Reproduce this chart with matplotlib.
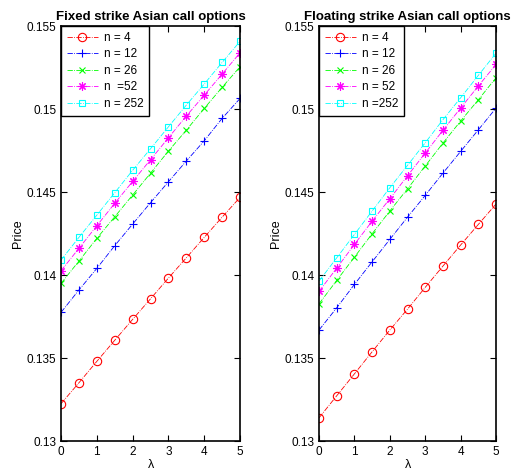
import numpy as np
import matplotlib
matplotlib.use("Agg")
import matplotlib.pyplot as plt

lam = [0, 0.5, 1, 1.5, 2, 2.5, 3, 3.5, 4, 4.5, 5]

# fixed strike prices
fixed_n4 = [0.13225, 0.13351, 0.13480, 0.13607, 0.13733, 0.13857, 0.13982, 0.14104, 0.14227, 0.14349, 0.14468]
fixed_n12 = [0.13775, 0.13910, 0.14040, 0.14177, 0.14307, 0.14436, 0.14562, 0.14687, 0.14809, 0.14944, 0.15064]
fixed_n26 = [0.13950, 0.14084, 0.14221, 0.14351, 0.14482, 0.14614, 0.14747, 0.14873, 0.15004, 0.15131, 0.15255]
fixed_n52 = [0.14026, 0.14161, 0.14297, 0.14432, 0.14564, 0.14695, 0.14827, 0.14958, 0.15084, 0.15211, 0.15339]
fixed_n252 = [0.14090, 0.14227, 0.14361, 0.14496, 0.14631, 0.14761, 0.14893, 0.15024, 0.15151, 0.15281, 0.15408]

# floating strike prices
float_n4 = [0.13140, 0.13273, 0.13405, 0.13538, 0.13669, 0.13795, 0.13926, 0.14054, 0.14181, 0.14305, 0.14428]
float_n12 = [0.13669, 0.13803, 0.13944, 0.14080, 0.14215, 0.14349, 0.14480, 0.14614, 0.14745, 0.14875, 0.15006]
float_n26 = [0.13827, 0.13968, 0.14108, 0.14249, 0.14386, 0.14520, 0.14657, 0.14795, 0.14928, 0.15056, 0.15189]
float_n52 = [0.13902, 0.14042, 0.14185, 0.14325, 0.14460, 0.14598, 0.14735, 0.14872, 0.15006, 0.15139, 0.15269]
float_n252 = [0.13964, 0.14104, 0.14245, 0.14386, 0.14526, 0.14661, 0.14797, 0.14936, 0.15068, 0.15203, 0.15337]

fixed_labels = ["n = 4", "n = 12", "n = 26", "n  =52", "n = 252"]
float_labels = ["n = 4", "n = 12", "n = 26", "n = 52", "n =252"]

colors = ["#ff0000", "#0000ff", "#00ff00", "#ff00ff", "#00ffff"]
markers = ["o", "+", "x", (8, 2, 0), "s"]
msizes = [6, 6, 4.5, 6, 5]

plt.rcParams['font.family'] = ['Liberation Sans', 'DejaVu Sans']

fig = plt.figure(figsize=(5.13, 4.74), dpi=100)
ax1 = fig.add_axes([0.119, 0.0696, 0.349, 0.8755])
ax2 = fig.add_axes([0.622, 0.0696, 0.345, 0.8755])


def draw(ax, series, labels, title):
    for y, lab, c, m, ms in zip(series, labels, colors, markers, msizes):
        ax.plot(lam, y, linestyle='-.', color=c, marker=m, markersize=ms,
                markerfacecolor='none', markeredgecolor=c, markeredgewidth=0.8,
                linewidth=0.6, label=lab)
    ax.set_xlim(0, 5)
    ax.set_ylim(0.13, 0.155)
    ax.set_xticks([0, 1, 2, 3, 4, 5])
    ax.set_yticks([0.13, 0.135, 0.14, 0.145, 0.15, 0.155])
    ax.set_yticklabels(["0.13", "0.135", "0.14", "0.145", "0.15", "0.155"])
    ax.tick_params(direction='in', top=True, right=True, labelsize=8.5, length=4)
    for s in ax.spines.values():
        s.set_linewidth(1.2)
    ax.set_title(title, fontsize=9.5, fontweight='bold', pad=4)
    ax.set_xlabel("λ", fontsize=9, labelpad=1)
    ax.set_ylabel("Price", fontsize=9, labelpad=2)
    leg = ax.legend(loc='upper left', fontsize=8.5, fancybox=False, framealpha=1,
                    edgecolor='black', borderaxespad=0.0, handlelength=2.6,
                    handletextpad=0.5, labelspacing=0.38, borderpad=0.5)
    leg.get_frame().set_linewidth(1.0)


draw(ax1, [fixed_n4, fixed_n12, fixed_n26, fixed_n52, fixed_n252], fixed_labels,
     "Fixed strike Asian call options")
draw(ax2, [float_n4, float_n12, float_n26, float_n52, float_n252], float_labels,
     "Floating strike Asian call options")

fig.savefig("out.png", dpi=100)
